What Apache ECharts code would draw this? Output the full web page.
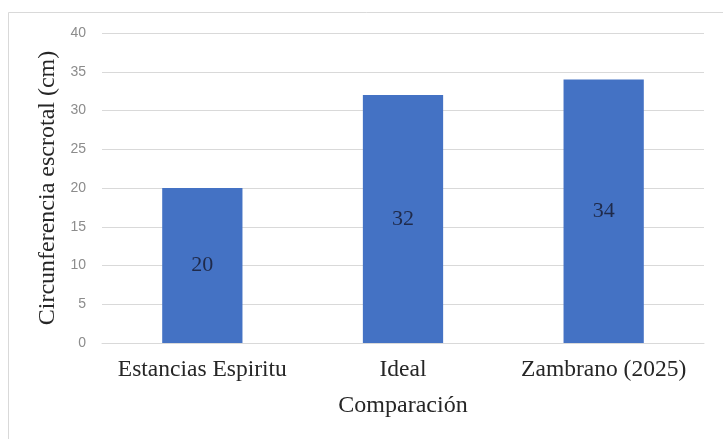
<!DOCTYPE html>
<html>
<head>
<meta charset="utf-8">
<script src="https://cdn.jsdelivr.net/npm/echarts@6/dist/echarts.min.js"></script>
<style>
  html, body { margin: 0; padding: 0; background: #ffffff; }
  #chart { width: 723px; height: 439px; }
</style>
</head>
<body>
<div id="chart"></div>
<script>
// Scrotal circumference by comparison group
const categories = ['Estancias Espiritu', 'Ideal', 'Zambrano (2025)'];
const values = [20, 32, 34];
const yTicks = { min: 0, max: 40, step: 5 };
const yTitle = 'Circunferencia escrotal (cm)';
const xTitle = 'Comparación';

const chart = echarts.init(document.getElementById('chart'));
const serif = '"Liberation Serif", "Times New Roman", serif';

chart.setOption({
  animation: false,
  backgroundColor: '#ffffff',
  graphic: [{
    type: 'rect',
    shape: { x: 8.5, y: 12.5, width: 730, height: 440 },
    style: { fill: 'none', stroke: '#d9d9d9', lineWidth: 1 },
    silent: true
  }],
  grid: { left: 102, right: 19, top: 33, bottom: 96, containLabel: false },
  xAxis: {
    type: 'category',
    data: categories,
    axisLine: { show: true, lineStyle: { color: '#d9d9d9', width: 1 } },
    axisTick: { show: false },
    axisLabel: {
      interval: 0,
      hideOverlap: false,
      color: '#262626',
      fontFamily: serif,
      fontSize: 23.5,
      margin: 15
    },
    name: xTitle,
    nameLocation: 'middle',
    nameGap: 51,
    nameTextStyle: { color: '#262626', fontFamily: serif, fontSize: 24 }
  },
  yAxis: {
    type: 'value',
    min: yTicks.min,
    max: yTicks.max,
    interval: yTicks.step,
    axisLine: { show: false },
    axisTick: { show: false },
    splitLine: { lineStyle: { color: '#d9d9d9', width: 1 } },
    axisLabel: { color: '#8c8c8c', fontFamily: '"Liberation Sans", Arial, sans-serif', fontSize: 14, margin: 16 },
    name: yTitle,
    nameLocation: 'middle',
    nameGap: 42,
    nameRotate: 90,
    nameTextStyle: { color: '#262626', fontFamily: serif, fontSize: 24 }
  },
  series: [{
    type: 'bar',
    data: values,
    barWidth: '40%',
    itemStyle: { color: '#4472c4' },
    label: {
      show: true,
      position: 'inside',
      color: '#1f2a4a',
      fontFamily: serif,
      fontSize: 22
    }
  }]
});
</script>
</body>
</html>
